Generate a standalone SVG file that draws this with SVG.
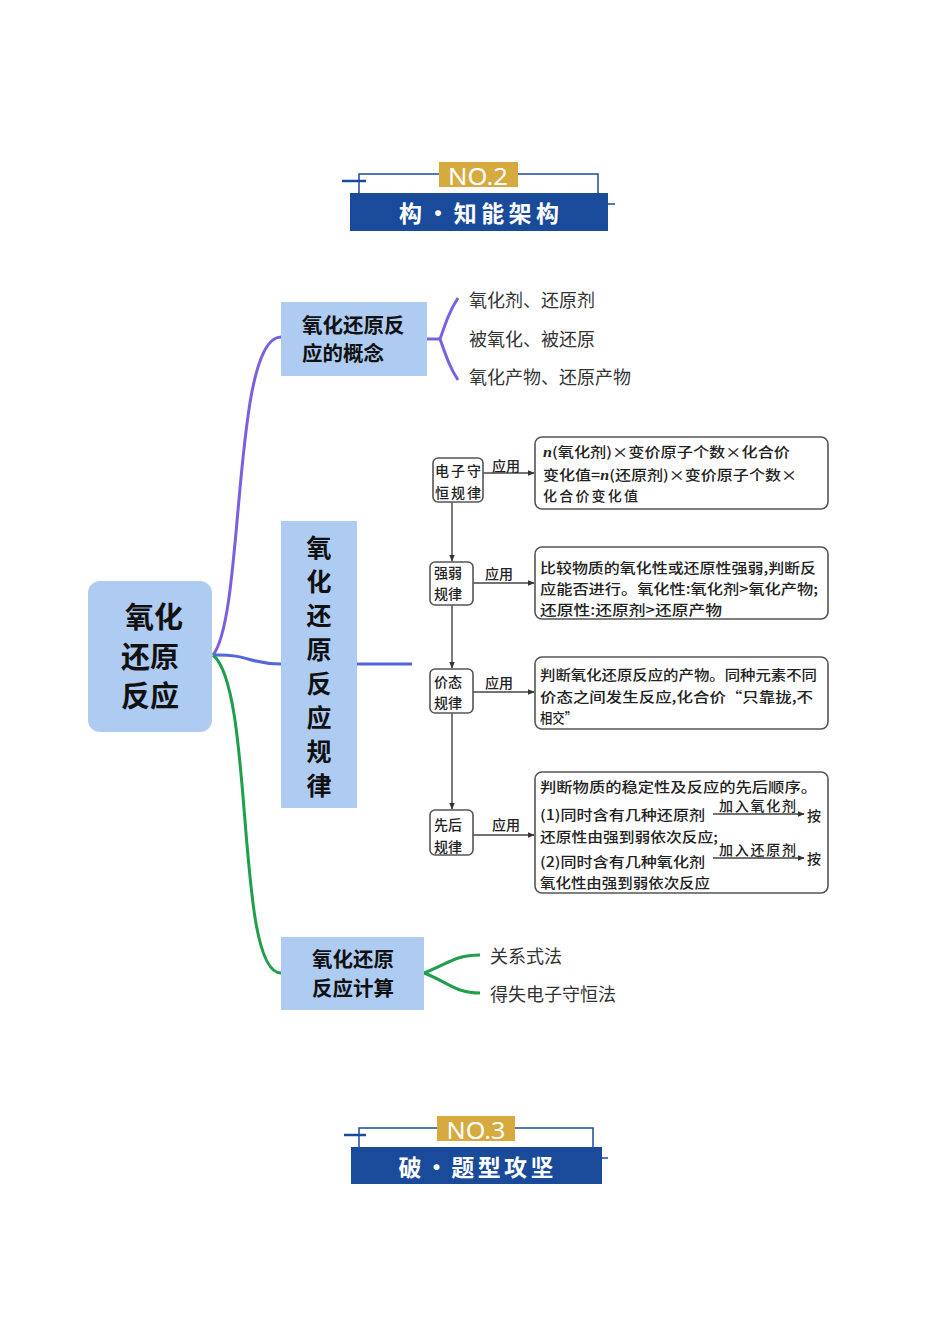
<svg xmlns="http://www.w3.org/2000/svg" width="950" height="1344" viewBox="0 0 950 1344">
<style>
.hdr{fill:#1a4b9b}
.gold{fill:#d6aa3f}
.thin{fill:none;stroke:#1a4b9b;stroke-width:1.5}
.tick{fill:none;stroke:#1a4b9b;stroke-width:2.5}
.htxt{font-family:"Noto Sans CJK SC",sans-serif;font-weight:700;font-size:23px;fill:#fff}
.ntxt{font-family:"Noto Sans",sans-serif;font-size:24px;fill:#fff}
.node{fill:#aecbf2}
.bt{font-family:"Noto Sans CJK SC",sans-serif;font-weight:700;fill:#111}
.leaf{font-family:"Noto Sans CJK SC",sans-serif;font-size:18px;fill:#333}
.fb{fill:#fff;stroke:#555;stroke-width:1.6}
.ft{font-family:"Noto Sans CJK SC",sans-serif;font-weight:500;font-size:14px;fill:#222}
.fl{fill:none;stroke:#444;stroke-width:1.4}
</style>
<defs>
<marker id="ah" viewBox="0 0 10 10" refX="9" refY="5" markerWidth="7" markerHeight="7" orient="auto" markerUnits="userSpaceOnUse"><path d="M0,1 L10,5 L0,9 z" fill="#333"/></marker>
</defs>
<rect width="950" height="1344" fill="#fff"/>

<g id="header1">
<path class="thin" d="M359,193 V174 H439 M518,174 H598 V193"/>
<path class="tick" d="M342,181 H366"/>
<path class="thin" d="M608,204 H615"/>
<rect class="gold" x="439" y="162" width="79" height="25"/>
<text class="ntxt" x="478" y="185" text-anchor="middle" textLength="60" lengthAdjust="spacingAndGlyphs">NO.2</text>
<rect class="hdr" x="350" y="193" width="258" height="38"/>
<text class="htxt" x="479" y="222" text-anchor="middle" textLength="160" lengthAdjust="spacing">构・知能架构</text>
</g>

<g id="header2">
<path class="thin" d="M359,1147 V1128 H437 M515,1128 H593 V1147"/>
<path class="tick" d="M344,1135 H366"/>
<path class="thin" d="M602,1158 H608"/>
<rect class="gold" x="437" y="1116" width="78" height="25"/>
<text class="ntxt" x="476" y="1139" text-anchor="middle" textLength="59" lengthAdjust="spacingAndGlyphs">NO.3</text>
<rect class="hdr" x="351" y="1147" width="251" height="37"/>
<text class="htxt" x="476" y="1176" text-anchor="middle" textLength="155" lengthAdjust="spacing">破・题型攻坚</text>
</g>

<g id="connectors">
<path d="M213,655 C245,615 232,337 281,337" fill="none" stroke="#7b5fe0" stroke-width="3"/>
<path d="M213,655 C250,654 248,664 281,664" fill="none" stroke="#5466dd" stroke-width="3"/>
<path d="M357,664 H412" fill="none" stroke="#5466dd" stroke-width="3"/>
<path d="M213,655 C255,690 235,973 281,973" fill="none" stroke="#1f9e4b" stroke-width="3"/>
<path d="M427,339 H440 M440,339 C446,322 450,310 458,298 M440,339 C446,356 450,368 458,380" fill="none" stroke="#7b5fe0" stroke-width="3"/>
<path d="M424,973 C448,964 455,955 480,955 M424,973 C448,982 455,993 480,993" fill="none" stroke="#1f9e4b" stroke-width="3"/>
</g>

<g id="center">
<rect class="node" x="88" y="581" width="124" height="151" rx="12"/>
<text class="bt" font-size="29" text-anchor="middle"><tspan x="154" y="628">氧化</tspan><tspan x="150" y="668">还原</tspan><tspan x="150" y="707">反应</tspan></text>
</g>

<g id="concept">
<rect class="node" x="281" y="302" width="146" height="74"/>
<text class="bt" font-size="20.5"><tspan x="302" y="333">氧化还原反</tspan><tspan x="302" y="361">应的概念</tspan></text>
</g>
<g id="leaf1"><text class="leaf" x="469" y="307">氧化剂、还原剂</text></g>
<g id="leaf2"><text class="leaf" x="469" y="346">被氧化、被还原</text></g>
<g id="leaf3"><text class="leaf" x="469" y="384">氧化产物、还原产物</text></g>

<g id="rules">
<rect class="node" x="281" y="521" width="76" height="287"/>
<text class="bt" font-size="25" text-anchor="middle">
<tspan x="319" y="557">氧</tspan><tspan x="319" y="591">化</tspan><tspan x="319" y="625">还</tspan><tspan x="319" y="659">原</tspan><tspan x="319" y="693">反</tspan><tspan x="319" y="727">应</tspan><tspan x="319" y="761">规</tspan><tspan x="319" y="795">律</tspan>
</text>
</g>

<g id="calc">
<rect class="node" x="281" y="937" width="143" height="73"/>
<text class="bt" font-size="20.5" text-anchor="middle"><tspan x="353" y="967">氧化还原</tspan><tspan x="353" y="996">反应计算</tspan></text>
</g>
<g id="leaf4"><text class="leaf" x="490" y="963">关系式法</text></g>
<g id="leaf5"><text class="leaf" x="490" y="1001">得失电子守恒法</text></g>

<g id="flow-lines">
<path class="fl" d="M452,502 V561" marker-end="url(#ah)"/>
<path class="fl" d="M452,605 V668" marker-end="url(#ah)"/>
<path class="fl" d="M452,713 V809" marker-end="url(#ah)"/>
<path class="fl" d="M483,473 H534" marker-end="url(#ah)"/>
<path class="fl" d="M473,583 H534" marker-end="url(#ah)"/>
<path class="fl" d="M473,692 H534" marker-end="url(#ah)"/>
<path class="fl" d="M473,835 H534" marker-end="url(#ah)"/>
<text class="ft" x="492" y="471">应用</text>
<text class="ft" x="485" y="579">应用</text>
<text class="ft" x="485" y="688">应用</text>
<text class="ft" x="492" y="830">应用</text>
</g>

<g id="rule-electron">
<rect class="fb" x="433" y="458" width="50" height="44" rx="5"/>
<text class="ft" font-size="15"><tspan x="435" y="476" textLength="46">电子守</tspan><tspan x="435" y="498" textLength="46">恒规律</tspan></text>
</g>
<g id="app-electron">
<rect class="fb" x="535" y="437" width="293" height="72" rx="7"/>
<text class="ft"><tspan x="543" y="457" textLength="247" lengthAdjust="spacingAndGlyphs"><tspan font-style="italic" font-family="Liberation Serif,serif" font-weight="700">n</tspan>(氧化剂)×变价原子个数×化合价</tspan><tspan x="543" y="480" textLength="254" lengthAdjust="spacingAndGlyphs">变化值=<tspan font-style="italic" font-family="Liberation Serif,serif" font-weight="700">n</tspan>(还原剂)×变价原子个数×</tspan><tspan x="543" y="501" textLength="95">化合价变化值</tspan></text>
</g>

<g id="rule-strength">
<rect class="fb" x="430" y="562" width="43" height="43" rx="5"/>
<text class="ft" font-size="15"><tspan x="434" y="578">强弱</tspan><tspan x="434" y="599">规律</tspan></text>
</g>
<g id="app-strength">
<rect class="fb" x="535" y="547" width="293" height="72" rx="7"/>
<text class="ft"><tspan x="540" y="573" textLength="276" lengthAdjust="spacingAndGlyphs">比较物质的氧化性或还原性强弱,判断反</tspan><tspan x="540" y="594" textLength="278" lengthAdjust="spacingAndGlyphs">应能否进行。氧化性:氧化剂&gt;氧化产物;</tspan><tspan x="540" y="615" textLength="182" lengthAdjust="spacingAndGlyphs">还原性:还原剂&gt;还原产物</tspan></text>
</g>

<g id="rule-valence">
<rect class="fb" x="430" y="669" width="43" height="44" rx="5"/>
<text class="ft" font-size="15"><tspan x="434" y="687">价态</tspan><tspan x="434" y="708">规律</tspan></text>
</g>
<g id="app-valence">
<rect class="fb" x="535" y="657" width="293" height="72" rx="7"/>
<text class="ft"><tspan x="540" y="680" textLength="277" lengthAdjust="spacingAndGlyphs">判断氧化还原反应的产物。同种元素不同</tspan><tspan x="540" y="702" textLength="273" lengthAdjust="spacingAndGlyphs">价态之间发生反应,化合价“只靠拢,不</tspan><tspan x="540" y="723" textLength="37" lengthAdjust="spacingAndGlyphs">相交”</tspan></text>
</g>

<g id="rule-order">
<rect class="fb" x="430" y="810" width="43" height="45" rx="5"/>
<text class="ft" font-size="15"><tspan x="434" y="830">先后</tspan><tspan x="434" y="852">规律</tspan></text>
</g>
<g id="app-order">
<rect class="fb" x="535" y="772" width="293" height="121" rx="7"/>
<text class="ft"><tspan x="540" y="792" textLength="277" lengthAdjust="spacingAndGlyphs">判断物质的稳定性及反应的先后顺序。</tspan><tspan x="540" y="820" textLength="165" lengthAdjust="spacingAndGlyphs">(1)同时含有几种还原剂</tspan><tspan x="540" y="842" textLength="178" lengthAdjust="spacingAndGlyphs">还原性由强到弱依次反应;</tspan><tspan x="540" y="867" textLength="165" lengthAdjust="spacingAndGlyphs">(2)同时含有几种氧化剂</tspan><tspan x="540" y="888" textLength="170" lengthAdjust="spacingAndGlyphs">氧化性由强到弱依次反应</tspan></text>
<path class="fl" d="M713,814 H804" marker-end="url(#ah)"/>
<path class="fl" d="M713,858 H804" marker-end="url(#ah)"/>
<text class="ft" font-size="12"><tspan x="719" y="811" textLength="77">加入氧化剂</tspan><tspan x="719" y="855" textLength="77">加入还原剂</tspan></text>
<text class="ft"><tspan x="807" y="821">按</tspan><tspan x="807" y="864">按</tspan></text>
</g>
</svg>
